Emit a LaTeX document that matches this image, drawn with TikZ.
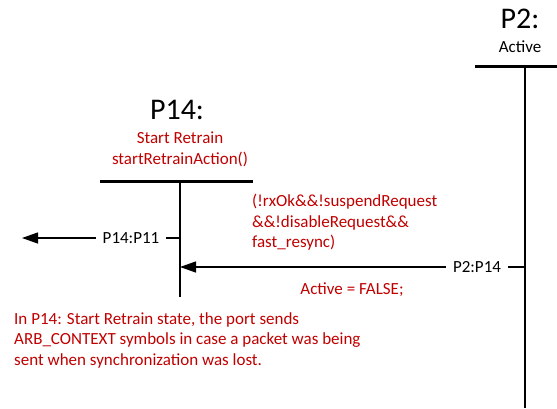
\documentclass[tikz,border=0pt]{standalone}
\usepackage{fontspec}
\setmainfont{Carlito}
\usetikzlibrary{arrows.meta}
\definecolor{dred}{RGB}{192,0,0}
\begin{document}
\begin{tikzpicture}[x=1pt,y=-1pt,
  font=\fontsize{17}{20.5}\selectfont,
  statebar/.style={line width=3pt},
  lifeline/.style={line width=1.3pt},
  conn/.style={line width=1.3pt},
  arr/.style={line width=1.3pt,-{Triangle[length=16pt,width=11pt]}},
  title/.style={font=\fontsize{30}{32}\selectfont,inner sep=0pt},
  redtxt/.style={text=dred,inner sep=0pt},
  lbl/.style={inner sep=0pt,inner xsep=7pt}]
\useasboundingbox (0,0) rectangle (557,408);
% P2 state
\node[title] (p2t) at (520,19) {P2:};
\node[inner sep=0pt] (p2a) at (520,47) {Active};
\coordinate (p2L) at (475,66);
\coordinate (p2R) at (557,66);
\coordinate (p2top) at (525,66);
\coordinate (p2bot) at (525,408);
\draw[statebar] (p2L) -- (p2R);
\draw[lifeline] (p2top) -- (p2bot);
% P14 state
\node[title] (p14t) at (177,110) {P14:};
\node[redtxt] (p14a) at (180,138) {Start Retrain};
\node[redtxt] (p14b) at (180,159) {startRetrainAction()};
\coordinate (p14L) at (100,181);
\coordinate (p14R) at (253,181);
\coordinate (p14top) at (180,181);
\coordinate (p14bot) at (180,297);
\draw[statebar] (p14L) -- (p14R);
\draw[lifeline] (p14top) -- (p14bot);
% P14:P11
\node[lbl] (l1) at (131,238) {P14:P11};
\coordinate (l1tip) at (22,238);
\coordinate (l1src) at (180,238);
\draw[conn] (l1src) -- (l1.east);
\draw[arr] (l1.west) -- (l1tip);
% P2:P14
\node[lbl] (l2) at (477,267) {P2:P14};
\coordinate (l2src) at (525,267);
\coordinate (l2tip) at (180,267);
\draw[conn] (l2src) -- (l2.east);
\draw[arr] (l2.west) -- (l2tip);
% condition
\node[redtxt,anchor=north west,align=left] (cond) at (252,194)
  {(!rxOk\&\&!suspendRequest\\\&\&!disableRequest\&\&\\fast\_resync)};
\node[redtxt] (act) at (352,290) {Active = FALSE;};
% note
\node[redtxt,anchor=north west,align=left] (note) at (14,312)
  {In P14: Start Retrain state, the port sends\\ARB\_CONTEXT symbols in case a packet was being\\sent when synchronization was lost.};
\end{tikzpicture}
\end{document}
